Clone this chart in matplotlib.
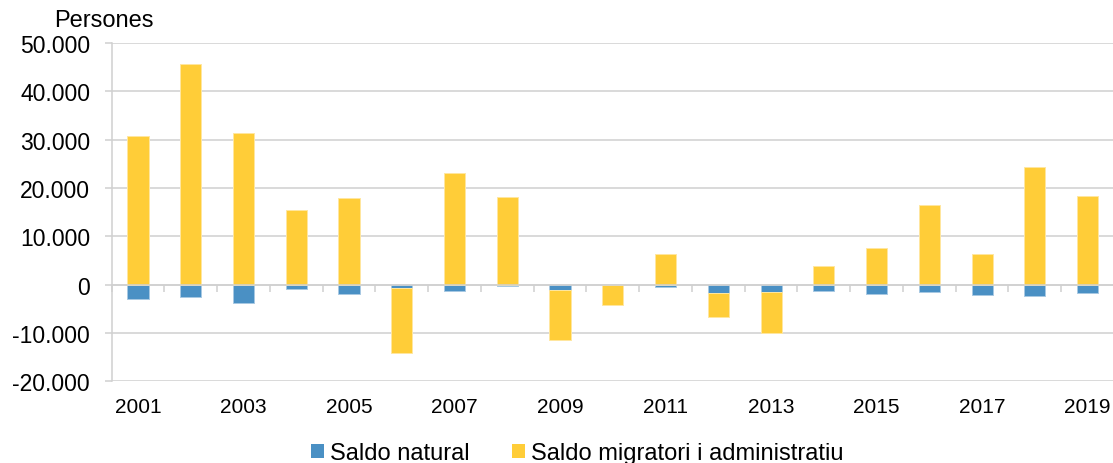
import numpy as np
import matplotlib
matplotlib.use("Agg")
import matplotlib.pyplot as plt
from matplotlib.patches import Patch
from matplotlib.ticker import FuncFormatter

plt.rcParams['font.family'] = ['Liberation Sans', 'DejaVu Sans']

years = list(range(2001, 2020))
saldo_natural = [-3000, -2500, -3700, -800, -1850, -600, -1400, -250, -1100, -150,
                 -450, -1650, -1500, -1350, -1900, -1500, -2050, -2350, -1800]
saldo_migratori = [30800, 45650, 31300, 15450, 17900, -13550, 23100, 18050, -10350, -4050,
                   6300, -5100, -8550, 3950, 7650, 16400, 6350, 24400, 18400]
series_names = ["Saldo natural", "Saldo migratori i administratiu"]
y_title = "Persones"

blue = "#4a90c4"
yellow = "#ffcd38"
grid_c = "#d0d0d0"

nat = np.array(saldo_natural, dtype=float)
mig = np.array(saldo_migratori, dtype=float)
x = np.arange(len(years))

# negatives stack below the natural balance, positives start from zero
mig_bottom = np.where(mig >= 0, 0.0, np.minimum(nat, 0.0))

fig = plt.figure(figsize=(11.13, 4.64), dpi=100)
ax = fig.add_axes([111.6 / 1113, 81.7 / 464, 1002.4 / 1113, 338.3 / 464])

w = 0.4
ax.bar(x, nat, width=w, color=blue, edgecolor="#a8c9e3", linewidth=0.7, zorder=2)
ax.bar(x, mig, width=w, bottom=mig_bottom, color=yellow, edgecolor="#ffe7a0",
       linewidth=0.7, zorder=2)

ax.set_xlim(-0.5, len(years) - 0.5)
ax.set_ylim(-20000, 50000)
ax.set_yticks(np.arange(-20000, 50001, 10000))
ax.yaxis.set_major_formatter(FuncFormatter(lambda v, p: f"{v:,.0f}".replace(",", ".")))
ax.yaxis.grid(True, color=grid_c, linewidth=1.1)
ax.set_axisbelow(True)

for s in ["top", "right", "bottom"]:
    ax.spines[s].set_visible(False)
ax.spines["left"].set_color(grid_c)
ax.spines["left"].set_linewidth(1.1)

ax.tick_params(axis="y", length=5, width=1.1, color=grid_c, pad=10.5,
               labelsize=16.5, labelcolor="black")
ax.set_xticks(x[::2])
ax.set_xticklabels([str(y) for y in years[::2]])
ax.tick_params(axis="x", length=0, pad=11.5, labelsize=15, labelcolor="black")

# horizontal category axis drawn at the zero line
zero_frac = 20000 / 70000
sec = ax.secondary_xaxis(zero_frac)
sec.set_xticks(np.arange(-0.5, len(years) - 1, 1.0))
sec.tick_params(axis="x", direction="out", length=5, width=1.1, color=grid_c,
                labelbottom=False, labeltop=False)
sec.spines["bottom"].set_color(grid_c)
sec.spines["bottom"].set_linewidth(1.1)
sec.set_zorder(3)

fig.text(103.5 / 1113, (464 - 21) / 464, y_title, ha="center", va="center", fontsize=17)

handles = [Patch(facecolor=blue, edgecolor="none"), Patch(facecolor=yellow, edgecolor="none")]
fig.legend(handles, series_names, loc="center", bbox_to_anchor=(577 / 1113, 10 / 464),
           ncol=2, frameon=False, fontsize=17, handlelength=0.55, handleheight=0.55,
           handletextpad=0.25, columnspacing=1.8, borderpad=0)

fig.savefig("out.png", dpi=100)
